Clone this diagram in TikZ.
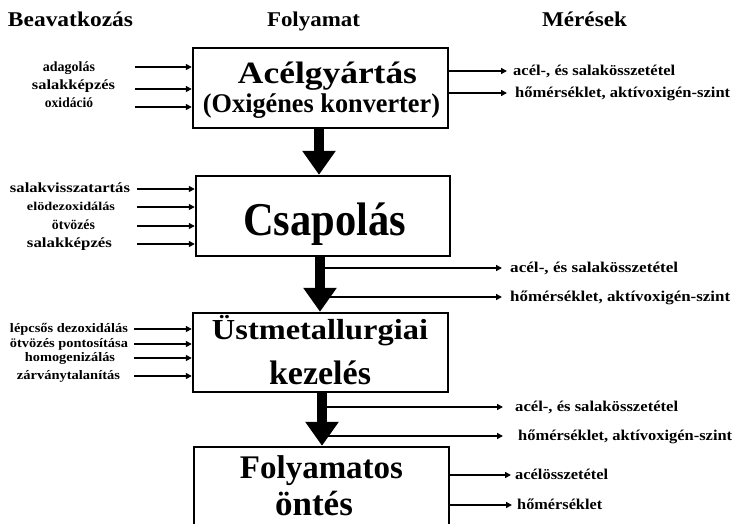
\documentclass[tikz,border=0pt]{standalone}
\usepackage{fontspec}
\setmainfont{Liberation Serif}
\usepackage{graphicx}
\usetikzlibrary{arrows.meta}
\newcommand{\fw}[2]{\resizebox{#1pt}{\height}{#2}}
\newcommand{\fs}[1]{\bfseries\fontsize{#1pt}{#1pt}\selectfont}
\begin{document}
\begin{tikzpicture}[x=1pt,y=-1pt,
  box/.style={draw, line width=2.4pt, inner sep=0pt},
  txt/.style={anchor=base, inner sep=0pt},
  head/.style={txt, font=\fs{21}},
  inlab/.style={txt, font=\fs{14}},
  outlab/.style={anchor=base west, inner sep=0pt, font=\fs{15}},
  inarr/.style={line width=1.8pt, -{Triangle[length=6pt,width=6pt]}},
  outarr/.style={line width=1.8pt, -{Triangle[length=6pt,width=6pt]}},
  big/.style={line width=10pt, -{Triangle[length=24pt,width=32pt]}}]
\path[use as bounding box] (0,0) rectangle (737,523);
\clip (0,0) rectangle (737,523);

% headers
\node[head] (h1) at (70.5,26) {\fw{125}{Beavatkozás}};
\node[head] (h2) at (313.5,26) {\fw{93}{Folyamat}};
\node[head] (h3) at (584.5,26) {\fw{85}{Mérések}};

% boxes
\node[box, minimum width=255pt, minimum height=80pt] (b1) at (320.5,88) {};
\node[box, minimum width=254pt, minimum height=80pt] (b2) at (323,216) {};
\node[box, minimum width=255pt, minimum height=79pt] (b3) at (320.5,352.5) {};
\node[box, minimum width=255pt, minimum height=113pt] (b4) at (321.5,503.5) {};

% box texts
\node[txt, font=\fs{31}] (t1a) at (327.5,83) {\fw{179}{Acélgyártás}};
\node[txt, font=\fs{27}] (t1b) at (321.5,112) {\fw{237}{(Oxigénes konverter)}};
\node[txt, font=\fs{47}] (t2) at (324.5,235) {\fw{163}{Csapolás}};
\node[txt, font=\fs{29}] (t3a) at (320,339) {\fw{216}{Üstmetallurgiai}};
\node[txt, font=\fs{34}] (t3b) at (320,384) {kezelés};
\node[txt, font=\fs{33}] (t4a) at (321.5,478) {\fw{163}{Folyamatos}};
\node[txt, font=\fs{35}] (t4b) at (314,515) {öntés};

% big arrows
\coordinate (a1s) at (319,88);
\coordinate (a2s) at (320,216);
\coordinate (a3s) at (322,352);
\draw[big] (a1s |- b1.south) -- (a1s |- b2.north);
\draw[big] (a2s |- b2.south) -- (a2s |- b3.north);
\draw[big] (a3s |- b3.south) -- (a3s |- b4.north);

% inputs box 1
\node[inlab] (i11) at (69,71.5) {\fw{52}{adagolás}};
\node[inlab] (i12) at (73.5,89) {\fw{83}{salakképzés}};
\node[inlab] (i13) at (69,107) {\fw{48}{oxidáció}};
\coordinate (c11) at (135,67);
\coordinate (c12) at (135,89);
\coordinate (c13) at (135,107);
\draw[inarr] (c11) -- (c11 -| b1.west);
\draw[inarr] (c12) -- (c12 -| b1.west);
\draw[inarr] (c13) -- (c13 -| b1.west);

% inputs box 2
\node[inlab] (i21) at (70,192.5) {\fw{120}{salakvisszatartás}};
\node[inlab, font=\fs{12}] (i22) at (71,210.5) {\fw{88}{elödezoxidálás}};
\node[inlab] (i23) at (73.5,229.5) {\fw{43}{ötvözés}};
\node[inlab] (i24) at (69.5,247.5) {\fw{85}{salakképzés}};
\coordinate (c21) at (137,189);
\coordinate (c22) at (137,207);
\coordinate (c23) at (137,226);
\coordinate (c24) at (137,244);
\draw[inarr] (c21) -- (c21 -| b2.west);
\draw[inarr] (c22) -- (c22 -| b2.west);
\draw[inarr] (c23) -- (c23 -| b2.west);
\draw[inarr] (c24) -- (c24 -| b2.west);

% inputs box 3
\node[inlab, font=\fs{13}] (i31) at (69,332.5) {\fw{118}{lépcsős dezoxidálás}};
\node[inlab, font=\fs{13}] (i32) at (69,347.5) {\fw{118}{ötvözés pontosítása}};
\node[inlab, font=\fs{13}] (i33) at (70,361.5) {\fw{90}{homogenizálás}};
\node[inlab, font=\fs{13}] (i34) at (68.5,379.5) {\fw{103}{zárványtalanítás}};
\coordinate (c31) at (134,329);
\coordinate (c32) at (134,344);
\coordinate (c33) at (134,358);
\coordinate (c34) at (134,376);
\draw[inarr] (c31) -- (c31 -| b3.west);
\draw[inarr] (c32) -- (c32 -| b3.west);
\draw[inarr] (c33) -- (c33 -| b3.west);
\draw[inarr] (c34) -- (c34 -| b3.west);

% outputs box 1
\node[outlab] (o11) at (513,75.5) {\fw{162}{acél-, és salakösszetétel}};
\node[outlab] (o12) at (515,97.5) {\fw{215}{hőmérséklet, aktívoxigén-szint}};
\coordinate (d11) at (320,71);
\coordinate (d12) at (320,93);
\draw[outarr] (d11 -| b1.east) -- ([xshift=-6pt]o11.west |- d11);
\draw[outarr] (d12 -| b1.east) -- ([xshift=-8pt]o12.west |- d12);

% outputs arrow 2
\node[outlab] (o21) at (510,272.5) {\fw{168}{acél-, és salakösszetétel}};
\node[outlab] (o22) at (510,301.5) {\fw{220}{hőmérséklet, aktívoxigén-szint}};
\coordinate (d21) at (320,268);
\coordinate (d22) at (320,297);
\draw[outarr] (d21) -- ([xshift=-8pt]o21.west |- d21);
\draw[outarr] (d22) -- ([xshift=-8pt]o22.west |- d22);

% outputs arrow 3
\node[outlab] (o31) at (515,411.5) {\fw{163}{acél-, és salakösszetétel}};
\node[outlab] (o32) at (518,440.5) {\fw{214}{hőmérséklet, aktívoxigén-szint}};
\coordinate (d31) at (322,407);
\coordinate (d32) at (322,436);
\draw[outarr] (d31) -- ([xshift=-12pt]o31.west |- d31);
\draw[outarr] (d32) -- ([xshift=-15pt]o32.west |- d32);

% outputs box 4
\node[outlab] (o41) at (515,479.5) {\fw{93}{acélösszetétel}};
\node[outlab] (o42) at (517,509.5) {\fw{85}{hőmérséklet}};
\coordinate (d41) at (322,475);
\coordinate (d42) at (322,505);
\draw[outarr] (d41 -| b4.east) -- ([xshift=-4pt]o41.west |- d41);
\draw[outarr] (d42 -| b4.east) -- ([xshift=-5pt]o42.west |- d42);
\end{tikzpicture}
\end{document}
